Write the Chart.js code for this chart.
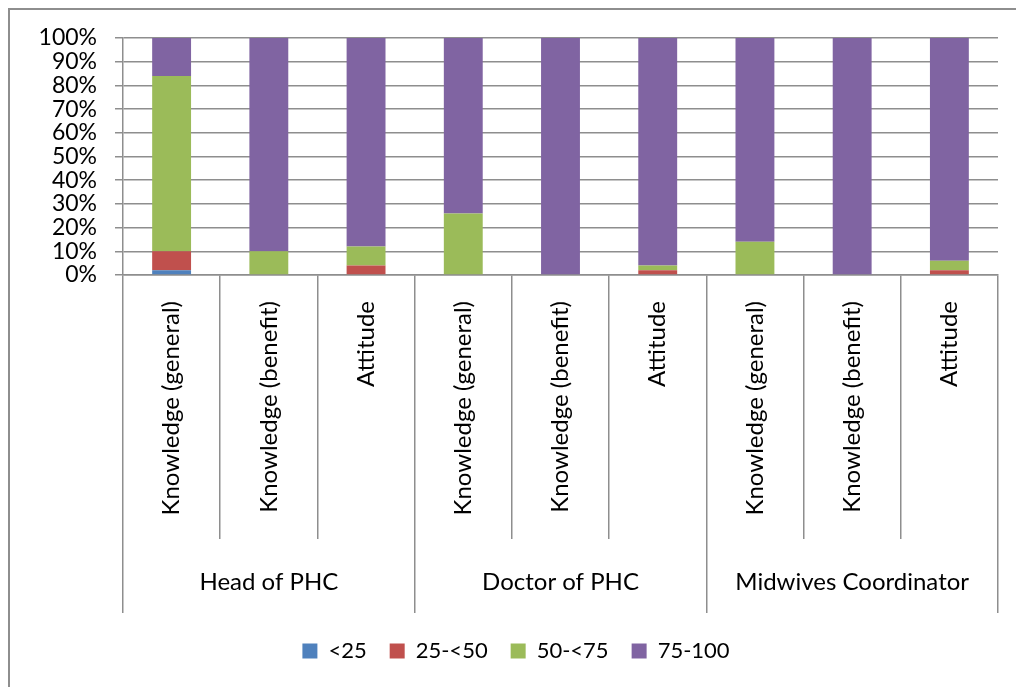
<!DOCTYPE html>
<html>
<head>
<meta charset="utf-8">
<script src="https://cdn.jsdelivr.net/npm/chart.js@4/dist/chart.umd.min.js"></script>
<style>
  html, body { margin: 0; padding: 0; background: #fff; }
  #wrap { position: relative; width: 1016px; height: 687px; overflow: hidden; }
  #frame { position: absolute; left: 8px; top: 8px; width: 1100px; height: 1000px;
           border-left: 2px solid #8e8e8e; border-top: 2px solid #8e8e8e; }
  #c { position: absolute; left: 0; top: 0; }
</style>
</head>
<body>
<div id="wrap">
  <div id="frame"></div>
  <canvas id="c" width="1016" height="687"></canvas>
</div>
<script>
// Categories (inner level) and their groups (outer level)
const categories = [
  'Knowledge (general)', 'Knowledge (benefit)', 'Attitude',
  'Knowledge (general)', 'Knowledge (benefit)', 'Attitude',
  'Knowledge (general)', 'Knowledge (benefit)', 'Attitude'
];
const groups = ['Head of PHC', 'Doctor of PHC', 'Midwives Coordinator'];

// Score bands, share of respondents (%)
const seriesNames = ['<25', '25-<50', '50-<75', '75-100'];
const below25   = [2, 0, 0, 0, 0, 0, 0, 0, 0];
const from25to50 = [8, 0, 4, 0, 0, 2, 0, 0, 2];
const from50to75 = [74, 10, 8, 26, 0, 2, 14, 0, 4];
const from75to100 = [16, 90, 88, 74, 100, 96, 86, 100, 94];

// Y axis ticks
const yTicks = [0, 10, 20, 30, 40, 50, 60, 70, 80, 90, 100];

const colors = ['#4F81BD', '#C0504D', '#9BBB59', '#8064A2'];
const gridColor = '#8e8e8e';
const fontFamily = 'Lato, "Liberation Sans", sans-serif';

Chart.defaults.font.family = fontFamily;
Chart.defaults.color = '#000';

const seriesValues = [below25, from25to50, from50to75, from75to100];

new Chart(document.getElementById('c'), {
  type: 'bar',
  data: {
    labels: categories,
    datasets: seriesValues.map((vals, i) => ({
      label: seriesNames[i],
      data: vals,
      backgroundColor: colors[i],
      borderWidth: 0,
      barPercentage: 0.4,
      categoryPercentage: 1.0
    }))
  },
  options: {
    responsive: false,
    animation: false,
    layout: { padding: { top: 38, right: 18, left: 34, bottom: 15 } },
    plugins: {
      tooltip: { enabled: false },
      legend: {
        position: 'bottom',
        labels: {
          boxWidth: 15,
          boxHeight: 15,
          padding: 23,
          font: { size: 22 },
          color: '#000'
        }
      }
    },
    scales: {
      y: {
        stacked: true,
        min: 0,
        max: 100,
        afterBuildTicks: (scale) => { scale.ticks = yTicks.map(v => ({ value: v })); },
        afterFit: (scale) => { scale.width = 89; },
        ticks: {
          autoSkip: false,
          padding: 18,
          font: { size: 23 },
          color: '#000',
          callback: (v) => v + '%'
        },
        grid: { color: gridColor, lineWidth: 1.5, tickLength: 8 },
        border: { color: gridColor, width: 1.5 }
      },
      x: {
        stacked: true,
        weight: 0,
        afterFit: (scale) => { scale.height = 264; },
        ticks: {
          autoSkip: false,
          minRotation: 90,
          maxRotation: 90,
          padding: -238,
          font: { size: 24 },
          color: '#000'
        },
        grid: { drawOnChartArea: false, color: gridColor, lineWidth: 1.5, tickLength: 264, offset: true },
        border: { color: gridColor, width: 1.5 }
      },
      x2: {
        type: 'category',
        labels: groups,
        position: 'bottom',
        weight: 1,
        offset: true,
        afterFit: (scale) => { scale.height = 78; },
        ticks: {
          autoSkip: false,
          maxRotation: 0,
          padding: -45,
          font: { size: 24 },
          color: '#000'
        },
        grid: { drawOnChartArea: false, color: gridColor, lineWidth: 1.5, tickLength: 74, offset: true },
        border: { display: false }
      }
    }
  }
});
</script>
</body>
</html>
